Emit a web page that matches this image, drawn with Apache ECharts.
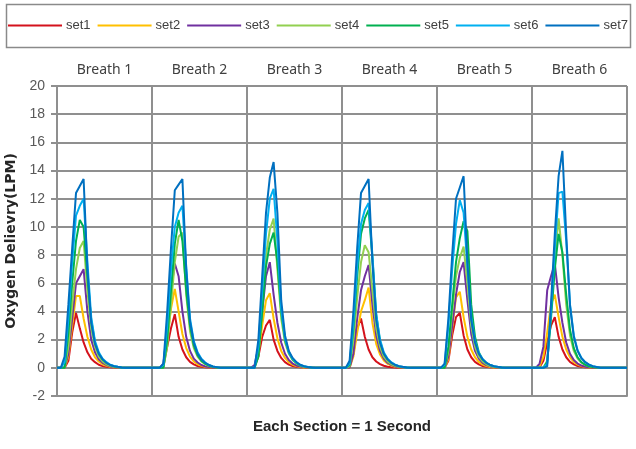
<!DOCTYPE html>
<html>
<head>
<meta charset="utf-8">
<script src="https://cdn.jsdelivr.net/npm/echarts@6/dist/echarts.min.js"></script>
<style>
  html, body { margin: 0; padding: 0; background: #fff; }
  #chart { width: 636px; height: 449px; }
</style>
</head>
<body>
<div id="chart"></div>
<script>
// section labels (one second each) and the sample offsets inside a section
const breathLabels = ['Breath 1', 'Breath 2', 'Breath 3', 'Breath 4', 'Breath 5', 'Breath 6'];
const sampleOffsets = [0, 0.04, 0.08, 0.12, 0.16, 0.2, 0.24, 0.28, 0.32, 0.36, 0.4, 0.44, 0.48, 0.52, 0.56, 0.6, 0.64, 0.68, 0.72];

const seriesNames = ['set1', 'set2', 'set3', 'set4', 'set5', 'set6', 'set7'];
const seriesColors = ['#d4121c', '#ffc000', '#7030a0', '#92d050', '#00b050', '#00b0f0', '#0070c0'];

// values per breath (LPM)
const set1 = [
  [0, 0, 0, 0.5, 2.5, 3.9, 2.8, 1.8, 1.1, 0.65, 0.4, 0.22, 0.12, 0.07, 0.04, 0.02, 0.01, 0, 0],
  [0, 0, 0, 0.1, 1.5, 2.8, 3.8, 2.2, 1.3, 0.75, 0.42, 0.24, 0.13, 0.07, 0.04, 0.02, 0.01, 0, 0],
  [0, 0, 0.1, 0.8, 2.2, 3.0, 3.4, 2.0, 1.2, 0.7, 0.4, 0.23, 0.13, 0.07, 0.04, 0.02, 0.01, 0, 0],
  [0, 0, 0.1, 1.0, 2.8, 3.5, 2.2, 1.3, 0.75, 0.45, 0.26, 0.15, 0.08, 0.04, 0.02, 0.01, 0, 0, 0],
  [0, 0, 0, 0.5, 2.3, 3.6, 3.9, 2.3, 1.3, 0.75, 0.42, 0.24, 0.13, 0.07, 0.04, 0.02, 0.01, 0, 0],
  [0, 0, 0.05, 0.5, 1.8, 3.0, 3.6, 2.2, 1.3, 0.75, 0.42, 0.24, 0.13, 0.07, 0.04, 0.02, 0.01, 0, 0]
];
const set2 = [
  [0, 0, 0, 0.8, 3.0, 5.1, 5.1, 3.5, 2.2, 1.3, 0.75, 0.45, 0.25, 0.15, 0.08, 0.04, 0.02, 0.01, 0],
  [0, 0, 0, 0.2, 2.0, 4.2, 5.6, 4.0, 2.4, 1.4, 0.8, 0.45, 0.25, 0.14, 0.07, 0.04, 0.02, 0.01, 0],
  [0, 0, 0.1, 1.0, 3.0, 4.8, 5.3, 3.5, 2.1, 1.2, 0.7, 0.4, 0.22, 0.12, 0.06, 0.03, 0.02, 0.01, 0],
  [0, 0, 0, 0.8, 2.5, 4.0, 4.8, 5.7, 3.2, 1.7, 0.95, 0.52, 0.28, 0.15, 0.08, 0.04, 0.02, 0.01, 0],
  [0, 0, 0, 0.6, 2.8, 5.0, 5.4, 3.6, 2.2, 1.3, 0.75, 0.42, 0.23, 0.12, 0.06, 0.03, 0.02, 0.01, 0],
  [0, 0, 0.1, 0.8, 2.5, 4.5, 5.2, 3.6, 2.2, 1.3, 0.75, 0.42, 0.23, 0.12, 0.06, 0.03, 0.02, 0.01, 0]
];
const set3 = [
  [0, 0, 0, 1.0, 3.5, 6.0, 6.5, 7.0, 4.0, 2.0, 1.1, 0.6, 0.35, 0.2, 0.1, 0.05, 0.03, 0.01, 0],
  [0, 0, 0, 0.3, 2.5, 5.5, 7.4, 6.5, 4.0, 2.2, 1.2, 0.65, 0.38, 0.2, 0.1, 0.05, 0.03, 0.01, 0],
  [0, 0, 0.2, 1.5, 4.0, 6.5, 7.5, 5.2, 3.2, 1.8, 1.0, 0.55, 0.3, 0.17, 0.09, 0.05, 0.02, 0.01, 0],
  [0, 0, 0, 1.0, 3.5, 5.5, 6.5, 7.3, 4.5, 2.3, 1.2, 0.65, 0.36, 0.2, 0.1, 0.05, 0.03, 0.01, 0],
  [0, 0, 0, 0.8, 3.0, 5.2, 6.8, 7.5, 4.8, 2.4, 1.2, 0.65, 0.35, 0.19, 0.1, 0.05, 0.03, 0.01, 0],
  [0, 0, 0.3, 1.5, 5.5, 6.5, 7.4, 5.0, 3.2, 1.8, 1.0, 0.55, 0.3, 0.16, 0.08, 0.04, 0.02, 0.01, 0]
];
const set4 = [
  [0, 0, 0, 1.5, 4.5, 7.0, 8.5, 9.0, 5.5, 2.8, 1.5, 0.8, 0.45, 0.25, 0.14, 0.08, 0.04, 0.02, 0],
  [0, 0, 0, 0, 1.5, 4.5, 7.5, 9.3, 9.6, 5.2, 2.6, 1.4, 0.8, 0.45, 0.25, 0.13, 0.07, 0.03, 0],
  [0, 0, 0, 1.0, 4.5, 8.0, 9.8, 10.6, 7.0, 3.5, 1.8, 1.0, 0.55, 0.3, 0.16, 0.08, 0.04, 0.02, 0],
  [0, 0, 0.1, 2.0, 5.0, 7.5, 8.7, 8.2, 5.5, 2.8, 1.5, 0.8, 0.45, 0.25, 0.14, 0.07, 0.04, 0.02, 0],
  [0, 0, 0, 1.2, 4.0, 6.5, 7.8, 8.6, 6.0, 3.0, 1.5, 0.8, 0.45, 0.25, 0.13, 0.07, 0.04, 0.02, 0],
  [0, 0, 0, 0, 0.5, 4.0, 7.8, 10.6, 8.0, 4.5, 2.3, 1.2, 0.65, 0.36, 0.2, 0.1, 0.05, 0.02, 0]
];
const set5 = [
  [0, 0, 0, 2.5, 6.0, 9.0, 10.5, 10.0, 6.5, 3.4, 1.8, 1.0, 0.6, 0.35, 0.2, 0.1, 0.05, 0.02, 0],
  [0, 0, 0, 0, 2.0, 5.5, 8.8, 10.5, 9.0, 5.5, 3.0, 1.6, 0.9, 0.5, 0.3, 0.15, 0.08, 0.03, 0],
  [0, 0, 0, 0.8, 4.0, 7.2, 8.8, 9.6, 7.5, 4.0, 2.0, 1.1, 0.6, 0.35, 0.18, 0.1, 0.05, 0.02, 0],
  [0, 0, 0.2, 2.8, 6.5, 9.5, 10.6, 11.2, 7.8, 3.8, 1.9, 1.0, 0.6, 0.35, 0.2, 0.1, 0.05, 0.02, 0],
  [0, 0, 0, 1.5, 4.5, 7.5, 9.2, 10.4, 9.7, 4.5, 2.2, 1.1, 0.6, 0.35, 0.2, 0.1, 0.05, 0.02, 0],
  [0, 0, 0, 0, 0.4, 3.5, 7.0, 9.5, 8.2, 5.2, 2.7, 1.4, 0.75, 0.4, 0.22, 0.11, 0.06, 0.02, 0]
];
const set6 = [
  [0, 0, 0.4, 3.5, 7.5, 10.8, 11.5, 12.0, 7.5, 3.6, 1.9, 1.1, 0.65, 0.4, 0.22, 0.13, 0.07, 0.03, 0],
  [0, 0, 0, 0.2, 3.0, 7.0, 10.0, 11.0, 11.5, 7.2, 3.5, 1.9, 1.1, 0.65, 0.38, 0.2, 0.1, 0.05, 0],
  [0, 0, 0, 1.5, 5.5, 9.5, 12.0, 12.7, 9.0, 4.2, 2.1, 1.1, 0.65, 0.38, 0.2, 0.11, 0.06, 0.02, 0],
  [0, 0, 0.3, 3.2, 7.2, 10.2, 11.2, 11.7, 8.0, 3.8, 2.0, 1.1, 0.65, 0.38, 0.22, 0.12, 0.06, 0.03, 0],
  [0, 0, 0.2, 3.0, 7.0, 10.2, 11.9, 11.0, 7.2, 3.6, 1.9, 1.05, 0.62, 0.36, 0.2, 0.11, 0.06, 0.03, 0],
  [0, 0, 0, 0, 0.3, 4.0, 8.5, 12.4, 12.5, 9.0, 4.5, 2.3, 1.25, 0.7, 0.4, 0.22, 0.12, 0.06, 0]
];
const set7 = [
  [0, 0, 0.8, 4.5, 8.5, 12.4, 12.9, 13.4, 7.0, 3.2, 1.7, 1.0, 0.6, 0.35, 0.2, 0.12, 0.07, 0.03, 0],
  [0, 0, 0, 0.3, 4.0, 8.5, 12.6, 13.0, 13.4, 7.0, 3.3, 1.8, 1.0, 0.6, 0.35, 0.2, 0.1, 0.05, 0],
  [0, 0, 0, 2.0, 6.5, 11.0, 13.5, 14.6, 11.0, 4.8, 2.3, 1.2, 0.7, 0.4, 0.22, 0.12, 0.06, 0.03, 0],
  [0, 0, 0.5, 4.0, 8.5, 12.4, 12.9, 13.4, 7.5, 3.4, 1.8, 1.0, 0.6, 0.35, 0.2, 0.12, 0.07, 0.03, 0],
  [0, 0, 0.3, 3.5, 8.0, 12.0, 12.8, 13.6, 7.5, 3.4, 1.8, 1.0, 0.6, 0.35, 0.2, 0.12, 0.07, 0.03, 0],
  [0, 0, 0, 0, 0.1, 4.5, 9.5, 13.6, 15.4, 9.5, 4.4, 2.2, 1.2, 0.68, 0.4, 0.23, 0.12, 0.06, 0]
];
const allSets = [set1, set2, set3, set4, set5, set6, set7];

// flatten breaths into [time, value] pairs, each breath = 1 second section
let buildPoints = (breaths) => {
  let pts = [];
  breaths.forEach((vals, b) => {
    vals.forEach((v, i) => {
      pts.push([b + sampleOffsets[i], v]);
    });
  });
  pts.push([breathLabels.length, 0]);
  return pts;
};

const gridGray = '#8f8f8f';

let chart = echarts.init(document.getElementById('chart'));

let options = {
  animation: false,
  color: seriesColors,
  graphic: [{
    type: 'rect',
    shape: { x: 6.5, y: 4.5, width: 624, height: 43 },
    style: { fill: 'none', stroke: '#8a8a8a', lineWidth: 1.5 }
  }],
  legend: {
    top: 14,
    left: 'center',
    icon: 'rect',
    itemWidth: 54,
    itemHeight: 2,
    itemGap: 7,
    textStyle: { fontSize: 13, color: '#404040', fontFamily: 'Liberation Sans, sans-serif', padding: [0, 0, 0, -1] },
    data: seriesNames
  },
  grid: { left: 57, right: 9, top: 86, bottom: 53, containLabel: false, outerBoundsMode: 'none' },
  xAxis: [{
    type: 'value',
    min: 0,
    max: 6,
    interval: 1,
    name: 'Each Section = 1 Second',
    nameLocation: 'middle',
    nameGap: 23,
    nameTextStyle: { fontSize: 15, fontWeight: 'bold', color: '#262626', fontFamily: 'Liberation Sans, sans-serif' },
    axisLine: { onZero: false, lineStyle: { color: gridGray, width: 2 } },
    axisTick: { show: false },
    axisLabel: { show: false },
    splitLine: { show: true, lineStyle: { color: gridGray, width: 2 } }
  }, {
    type: 'category',
    position: 'top',
    data: breathLabels,
    boundaryGap: true,
    axisLine: { show: false },
    axisTick: { show: false },
    axisLabel: { fontSize: 14, color: '#404040', margin: 9, fontFamily: 'Noto Sans, sans-serif' },
    splitLine: { show: false }
  }],
  yAxis: {
    type: 'value',
    min: -2,
    max: 20,
    interval: 2,
    name: 'Oxygen Delievry(LPM)',
    nameLocation: 'middle',
    nameGap: 37,
    nameTextStyle: { fontSize: 14, fontWeight: 'bold', color: '#262626', fontFamily: 'DejaVu Sans, sans-serif' },
    axisLine: { show: true, lineStyle: { color: gridGray, width: 2 } },
    axisTick: { show: true, length: 6, lineStyle: { color: gridGray, width: 2 } },
    axisLabel: { fontSize: 14, color: '#595959', margin: 12, fontFamily: 'Liberation Sans, sans-serif' },
    splitLine: { show: true, lineStyle: { color: gridGray, width: 2 } }
  },
  series: seriesNames.map((name, k) => ({
    name: name,
    type: 'line',
    xAxisIndex: 0,
    symbol: 'none',
    lineStyle: { width: 2 },
    data: buildPoints(allSets[k])
  }))
};

chart.setOption(options);
</script>
</body>
</html>
